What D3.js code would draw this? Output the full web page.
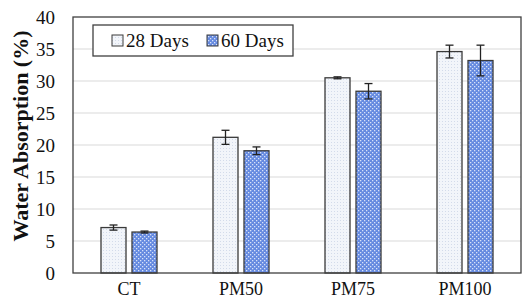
<!DOCTYPE html>
<html><head><meta charset="utf-8">
<script src="https://cdn.jsdelivr.net/npm/d3@7"></script>
<style>body{margin:0;background:#fff;font-family:"Liberation Serif",serif}svg{display:block;font-family:"Liberation Serif",serif}</style>
</head><body>
<script>
const categories = ["CT", "PM50", "PM75", "PM100"];
const series = ["28 Days", "60 Days"];
const values28 = [7.1, 21.2, 30.5, 34.6];
const errors28 = [0.4, 1.1, 0.15, 1.0];
const values60 = [6.4, 19.1, 28.4, 33.2];
const errors60 = [0.15, 0.6, 1.2, 2.4];
const yTicks = [0, 5, 10, 15, 20, 25, 30, 35, 40];

const SERIF = "Liberation Serif";
const W = 523, H = 307;
const m = {left: 73, right: 2, top: 17, bottom: 34};
const svg = d3.select("body").append("svg").attr("width", W).attr("height", H)
  .attr("font-family", SERIF).style("font-family", SERIF);
const defs = svg.append("defs");
const p1 = defs.append("pattern").attr("id", "p28").attr("patternUnits", "userSpaceOnUse").attr("width", 3).attr("height", 3);
p1.append("rect").attr("width", 3).attr("height", 3).attr("fill", "#f2f5fa");
p1.append("rect").attr("x", 1).attr("y", 1).attr("width", 1).attr("height", 1).attr("fill", "#d3dbea");
const p2 = defs.append("pattern").attr("id", "p60").attr("patternUnits", "userSpaceOnUse").attr("width", 4).attr("height", 4);
p2.append("rect").attr("width", 4).attr("height", 4).attr("fill", "#658ae0");
p2.append("rect").attr("x", 0).attr("y", 0).attr("width", 1.3).attr("height", 1.3).attr("fill", "#d8e2f8");
p2.append("rect").attr("x", 2).attr("y", 2).attr("width", 1.3).attr("height", 1.3).attr("fill", "#d8e2f8");

const x0 = d3.scaleBand().domain(categories).range([m.left, W - m.right]).paddingInner(0).paddingOuter(0);
const y = d3.scaleLinear().domain([0, 40]).range([H - m.bottom, m.top]);
const barW = 25, gap = 6;

// gridlines
svg.append("g").selectAll("line").data(yTicks.slice(1, -1)).join("line")
  .attr("x1", m.left).attr("x2", W - m.right)
  .attr("y1", d => y(d)).attr("y2", d => y(d))
  .attr("stroke", "#d9d9d9").attr("stroke-width", 1);

// y axis labels
const yAxis = d3.axisLeft(y).tickValues(yTicks).tickSize(0).tickPadding(18);
const yg = svg.append("g").attr("transform", `translate(${m.left},0)`).call(yAxis);
yg.select(".domain").remove();
yg.attr("font-family", SERIF);
yg.selectAll("text").attr("font-family", SERIF).style("font-family", SERIF).style("font-size", "19px").attr("fill", "#111");

// x axis labels
const xAxis = d3.axisBottom(x0).tickSize(0).tickPadding(9);
const xg = svg.append("g").attr("transform", `translate(0,${H - m.bottom})`).call(xAxis);
xg.select(".domain").remove();
xg.attr("font-family", SERIF);
xg.selectAll("text").attr("font-family", SERIF).style("font-family", SERIF).style("font-size", "18px").attr("fill", "#111");

// bars
const data = categories.map((c, i) => ({c, v: [values28[i], values60[i]], e: [errors28[i], errors60[i]]}));
const fills = ["url(#p28)", "url(#p60)"];
data.forEach(d => {
  const cx = x0(d.c) + x0.bandwidth() / 2;
  [0, 1].forEach(k => {
    const bx = k === 0 ? cx - gap / 2 - barW : cx + gap / 2;
    svg.append("rect").attr("x", bx).attr("y", y(d.v[k])).attr("width", barW)
      .attr("height", y(0) - y(d.v[k])).attr("fill", fills[k])
      .attr("stroke", "#3a3a3a").attr("stroke-width", 1.3);
    const ex = bx + barW / 2;
    const g = svg.append("g").attr("stroke", "#222").attr("stroke-width", 1.3);
    g.append("line").attr("x1", ex).attr("x2", ex).attr("y1", y(d.v[k] + d.e[k])).attr("y2", y(d.v[k] - d.e[k]));
    g.append("line").attr("x1", ex - 4).attr("x2", ex + 4).attr("y1", y(d.v[k] + d.e[k])).attr("y2", y(d.v[k] + d.e[k]));
    g.append("line").attr("x1", ex - 4).attr("x2", ex + 4).attr("y1", y(d.v[k] - d.e[k])).attr("y2", y(d.v[k] - d.e[k]));
  });
});

// plot frame
svg.append("rect").attr("x", m.left).attr("y", m.top).attr("width", W - m.right - m.left)
  .attr("height", y(0) - m.top).attr("fill", "none").attr("stroke", "#404040").attr("stroke-width", 1.3);

// y title
svg.append("text").attr("transform", `translate(23,136) rotate(-90)`)
  .attr("text-anchor", "middle").attr("dominant-baseline", "middle")
  .attr("font-family", SERIF).style("font-family", SERIF).style("font-weight", "bold").style("font-size", "22px")
  .attr("fill", "#111").text("Water Absorption (%)");

// legend
const lg = svg.append("g");
lg.append("rect").attr("x", 93).attr("y", 25).attr("width", 200).attr("height", 31)
  .attr("fill", "#fff").attr("stroke", "#404040").attr("stroke-width", 1.3);
const litems = [{x: 112, t: series[0], f: fills[0]}, {x: 207, t: series[1], f: fills[1]}];
litems.forEach(it => {
  lg.append("rect").attr("x", it.x).attr("y", 35).attr("width", 11).attr("height", 11)
    .attr("fill", it.f).attr("stroke", "#3a3a3a").attr("stroke-width", 1);
  lg.append("text").attr("x", it.x + 14).attr("y", 47)
    .attr("font-family", SERIF).style("font-family", SERIF).style("font-size", "19px").attr("fill", "#111").text(it.t);
});
</script>
</body></html>
